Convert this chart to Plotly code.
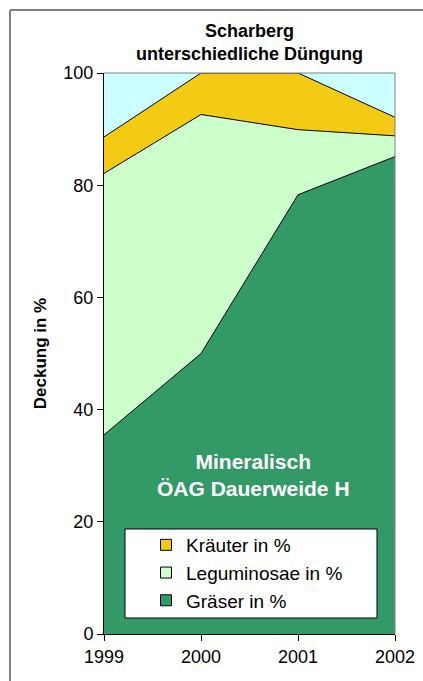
import plotly.graph_objects as go

years = [1999, 2000, 2001, 2002]
graeser = [35.5, 50.0, 78.3, 85.1]
leguminosae = [46.6, 42.6, 11.6, 3.7]
kraeuter = [6.5, 7.4, 10.1, 3.3]

series_names = ["Gräser in %", "Leguminosae in %", "Kräuter in %"]
series_values = [graeser, leguminosae, kraeuter]
series_colors = ["#339966", "#CCFFCC", "#F3CB14"]

y_ticks = [0, 20, 40, 60, 80, 100]

FONT = "Liberation Sans, Arial, sans-serif"

fig = go.Figure()
for name, vals, col in zip(series_names, series_values, series_colors):
    fig.add_trace(go.Scatter(
        x=years, y=vals, name=name, stackgroup="one", mode="lines",
        line=dict(color="black", width=1), fillcolor=col, showlegend=False,
        hoverinfo="skip",
    ))

# legend entries (square swatches)
for i, (name, col) in enumerate(reversed(list(zip(series_names, series_colors)))):
    fig.add_trace(go.Scatter(
        x=[None], y=[None], mode="markers", name=name, legendgroup=f"g{i}",
        marker=dict(symbol="square", size=11, color=col, line=dict(color="black", width=1)),
        showlegend=True,
    ))

L, R, T, B = 104, 28, 73, 47
W, H = 423, 681
pw, ph = W - L - R, H - T - B

def px_x(p):
    return (p - L) / pw

def px_y(p):
    return (H - B - p) / ph

fig.update_layout(
    width=W, height=H,
    margin=dict(l=L, r=R, t=T, b=B, pad=0, autoexpand=False),
    paper_bgcolor="white",
    plot_bgcolor="#CCFFFF",
    font=dict(family=FONT, size=18, color="black"),
    showlegend=True,
    legend=dict(
        x=px_x(146), y=px_y(526), xanchor="left", yanchor="top",
        bgcolor="rgba(0,0,0,0)", borderwidth=0,
        font=dict(family=FONT, size=19, color="black"),
        tracegroupgap=5, traceorder="normal", itemwidth=30,
    ),
    xaxis=dict(
        range=[1999, 2002], tickvals=years, ticktext=[str(y) for y in years],
        showgrid=False, zeroline=False, showline=True, linecolor="black", linewidth=1,
        ticks="outside", ticklen=6, tickcolor="black", automargin=False,
        tickfont=dict(family=FONT, size=18),
    ),
    yaxis=dict(
        range=[0, 100], tickvals=y_ticks, showgrid=False, zeroline=False,
        showline=True, linecolor="black", linewidth=1,
        ticks="outside", ticklen=6, tickcolor="black", automargin=False,
        tickfont=dict(family=FONT, size=18),
        title=dict(text="<b>Deckung in %</b>", font=dict(family=FONT, size=17), standoff=12),
    ),
    shapes=[
        # outer frame (top and left edges; right/bottom lie outside the picture)
        dict(type="line", xref="paper", yref="paper",
             x0=px_x(10), x1=px_x(423), y0=px_y(10), y1=px_y(10),
             line=dict(color="#808080", width=2), layer="below"),
        dict(type="line", xref="paper", yref="paper",
             x0=px_x(10), x1=px_x(10), y0=px_y(10), y1=px_y(681),
             line=dict(color="#808080", width=2), layer="below"),
        # plot frame top/right
        dict(type="line", xref="paper", yref="paper", x0=0, x1=1, y0=1, y1=1,
             line=dict(color="#808080", width=1)),
        dict(type="line", xref="paper", yref="paper", x0=1, x1=1, y0=0, y1=1,
             line=dict(color="#808080", width=1)),
        # legend box
        dict(type="rect", xref="paper", yref="paper",
             x0=px_x(125), x1=px_x(377), y0=px_y(618), y1=px_y(529),
             line=dict(color="black", width=1), fillcolor="white", layer="above"),
    ],
    annotations=[
        dict(text="<b>Scharberg<br>unterschiedliche Düngung</b>", xref="paper", yref="paper",
             x=px_x(249), y=px_y(42), xanchor="center", yanchor="middle", showarrow=False,
             font=dict(family=FONT, size=18, color="black")),
        dict(text="<b>Mineralisch<br>ÖAG Dauerweide H</b>", xref="paper", yref="paper",
             x=px_x(253), y=px_y(475), xanchor="center", yanchor="middle", showarrow=False,
             font=dict(family=FONT, size=21, color="white")),
    ],
)

fig.write_html(
    "out.html",
    config={"displayModeBar": False},
    post_script=(
        "document.documentElement.style.margin='0';"
        "document.documentElement.style.overflow='hidden';"
        "document.body.style.margin='0';"
        "document.body.style.overflow='hidden';"
    ),
)
